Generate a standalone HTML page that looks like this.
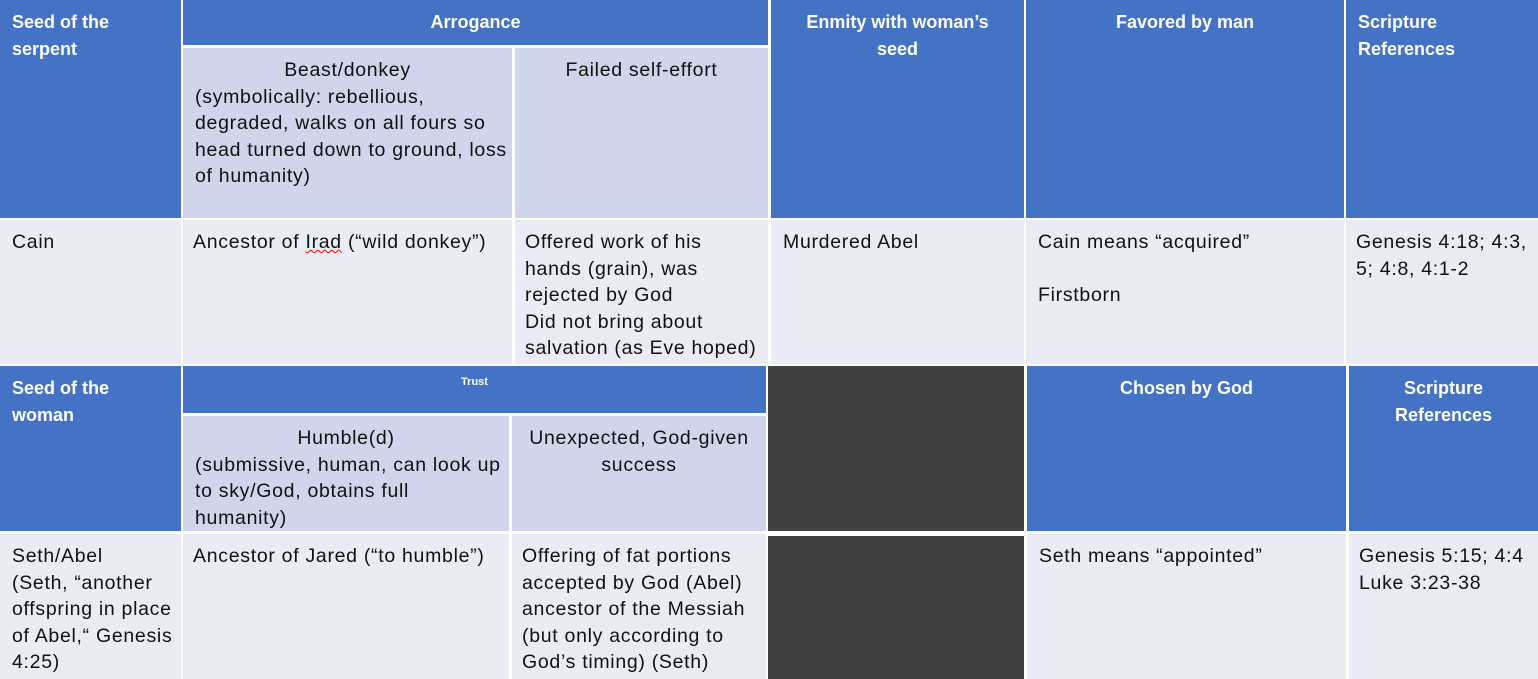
<!DOCTYPE html>
<html><head><meta charset="utf-8"><style>
body{margin:0;width:1538px;height:679px;background:#fff;position:relative;overflow:hidden;font-family:"Liberation Sans",sans-serif;font-size:19.5px;letter-spacing:0.7px;}
.c{position:absolute;box-sizing:border-box;padding:9px 12px;line-height:26.6px;white-space:nowrap;}
.b{background:#4472c4;color:#fff;font-weight:bold;font-size:18px;letter-spacing:0;}
.l{background:#cfd5ea;color:#111;text-align:center;}
.r{background:#e9ebf5;color:#111;}
.d{background:#404040;}
.ctr{text-align:center;}
</style></head><body>
<div class="c b" style="left:0;top:0;width:181px;height:218px">Seed of the<br>serpent</div>
<div class="c b ctr" style="left:183px;top:0;width:585px;height:45px">Arrogance</div>
<div class="c l" style="left:183px;top:48px;width:329px;height:170px;padding-top:9px">Beast/donkey<br><div style="text-align:left">(symbolically: rebellious,<br>degraded, walks on all fours so<br>head turned down to ground, loss<br>of humanity)</div></div>
<div class="c l" style="left:515px;top:48px;width:253px;height:170px;padding-top:9px">Failed self-effort</div>
<div class="c b ctr" style="left:771px;top:0;width:253px;height:218px">Enmity with woman’s<br>seed</div>
<div class="c b ctr" style="left:1026px;top:0;width:318px;height:218px">Favored by man</div>
<div class="c b" style="left:1346px;top:0;width:192px;height:218px">Scripture<br>References</div>
<div class="c r" style="left:0;top:220px;width:181px;height:144px">Cain</div>
<div class="c r" style="left:183px;top:220px;width:329px;height:144px;padding-left:10px">Ancestor of <span style="text-decoration:underline wavy red;text-decoration-thickness:1px">Irad</span> (“wild donkey”)</div>
<div class="c r" style="left:515px;top:220px;width:253px;height:144px;padding-left:10px">Offered work of his<br>hands (grain), was<br>rejected by God<br>Did not bring about<br>salvation (as Eve hoped)</div>
<div class="c r" style="left:771px;top:220px;width:253px;height:144px">Murdered Abel</div>
<div class="c r" style="left:1026px;top:220px;width:318px;height:144px">Cain means “acquired”<br><br>Firstborn</div>
<div class="c r" style="left:1346px;top:220px;width:192px;height:144px;padding-left:10px">Genesis 4:18; 4:3,<br>5; 4:8, 4:1-2</div>
<div class="c b" style="left:0;top:366px;width:181px;height:165px">Seed of the<br>woman</div>
<div class="c b ctr" style="left:183px;top:366px;width:583px;height:47px;font-size:11px;line-height:14px;padding-top:9px">Trust</div>
<div class="c l" style="left:183px;top:416px;width:326px;height:115px">Humble(d)<br><div style="text-align:left">(submissive, human, can look up<br>to sky/God, obtains full<br>humanity)</div></div>
<div class="c l" style="left:512px;top:416px;width:254px;height:115px">Unexpected, God-given<br>success</div>
<div class="c d" style="left:768px;top:366px;width:256px;height:165px"></div>
<div class="c b ctr" style="left:1027px;top:366px;width:319px;height:165px">Chosen by God</div>
<div class="c b ctr" style="left:1349px;top:366px;width:189px;height:165px">Scripture<br>References</div>
<div class="c r" style="left:0;top:534px;width:181px;height:145px">Seth/Abel<br>(Seth, “another<br>offspring in place<br>of Abel,“ Genesis<br>4:25)</div>
<div class="c r" style="left:183px;top:534px;width:326px;height:145px;padding-left:10px">Ancestor of Jared (“to humble”)</div>
<div class="c r" style="left:512px;top:534px;width:254px;height:145px;padding-left:10px">Offering of fat portions<br>accepted by God (Abel)<br>ancestor of the Messiah<br>(but only according to<br>God’s timing) (Seth)</div>
<div class="c d" style="left:768px;top:536px;width:256px;height:143px"></div>
<div class="c r" style="left:1027px;top:534px;width:319px;height:145px">Seth means “appointed”</div>
<div class="c r" style="left:1349px;top:534px;width:189px;height:145px;padding-left:10px">Genesis 5:15; 4:4<br>Luke 3:23-38</div>
</body></html>
